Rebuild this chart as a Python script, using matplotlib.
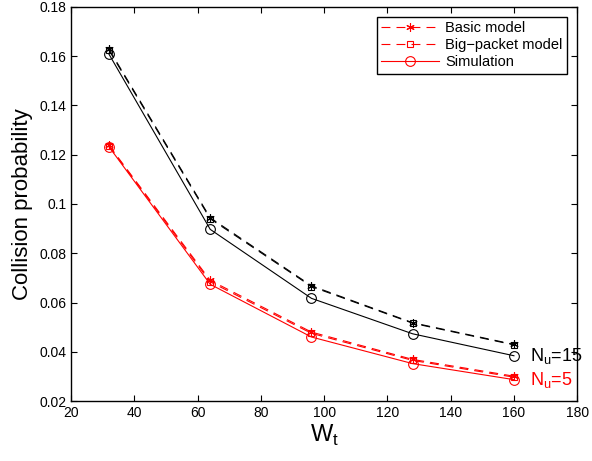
import numpy as np
from matplotlib import pyplot as plt

plt.rcParams["font.family"] = ["Liberation Sans", "DejaVu Sans"]

wt = [32, 64, 96, 128, 160]

# N_u = 15
basic_15 = [0.1628, 0.0944, 0.0668, 0.0518, 0.0430]
bigpkt_15 = [0.1624, 0.0940, 0.0665, 0.0516, 0.0428]
sim_15 = [0.1608, 0.0897, 0.0617, 0.0473, 0.0384]

# N_u = 5
basic_5 = [0.1238, 0.0690, 0.0480, 0.0369, 0.0301]
bigpkt_5 = [0.1235, 0.0684, 0.0475, 0.0365, 0.0297]
sim_5 = [0.1232, 0.0674, 0.0460, 0.0352, 0.0287]

fig = plt.figure(figsize=(5.92, 4.61), dpi=100)
ax = fig.add_axes([0.12, 0.13, 0.855, 0.855])

lw = 0.8
dash = (0, (8, 5.5))
star = (6, 2, 0)
kw_s = dict(marker=star, ms=6, mew=0.8, lw=lw, ls=dash)
kw_b = dict(marker="s", ms=5, mew=0.8, mfc="none", lw=lw, ls=dash)
kw_o = dict(marker="o", ms=7, mew=0.8, mfc="none", lw=lw, ls="-")

ax.plot(wt, basic_15, color="k", **kw_s)
ax.plot(wt, bigpkt_15, color="k", **kw_b)
ax.plot(wt, sim_15, color="k", **kw_o)

l1, = ax.plot(wt, basic_5, color="r", label="Basic model", **kw_s)
l2, = ax.plot(wt, bigpkt_5, color="r", label="Big\u2212packet model", **kw_b)
l3, = ax.plot(wt, sim_5, color="r", label="Simulation", **kw_o)

ax.text(165, 0.0384, "N$_\\mathregular{u}$=15", fontsize=13, color="k",
        va="center", ha="left")
ax.text(165, 0.0287, "N$_\\mathregular{u}$=5", fontsize=13, color="r",
        va="center", ha="left")

ax.set_xlim(20, 180)
ax.set_ylim(0.02, 0.18)
ax.set_xticks(np.arange(20, 181, 20))
ax.set_yticks(np.arange(0.02, 0.181, 0.02))
ax.set_yticklabels(["0.02", "0.04", "0.06", "0.08", "0.1", "0.12", "0.14", "0.16", "0.18"])
ax.tick_params(direction="in", top=True, right=True, labelsize=10, length=4)
for s in ax.spines.values():
    s.set_linewidth(1)

ax.set_xlabel("W$_\\mathregular{t}$", fontsize=17, labelpad=2)
ax.set_ylabel("Collision probability", fontsize=16, labelpad=4)

leg = ax.legend(handles=[l1, l2, l3], loc="upper right", fontsize=10.5,
                fancybox=False, edgecolor="k", framealpha=1,
                handlelength=4, borderaxespad=0.7, labelspacing=0.2,
                borderpad=0.3, handletextpad=0.4)
leg.get_frame().set_linewidth(1)

fig.savefig("out.png", dpi=100)
